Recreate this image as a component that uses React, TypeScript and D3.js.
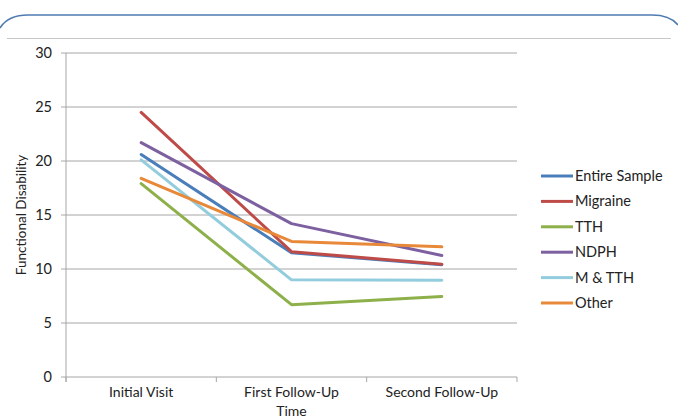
import React from "react";
import * as d3 from "d3";

const categories = ["Initial Visit", "First Follow-Up", "Second Follow-Up"];
const seriesNames = ["Entire Sample", "Migraine", "TTH", "NDPH", "M & TTH", "Other"];
const entireSample = [20.6, 11.5, 10.4];
const migraine = [24.5, 11.6, 10.45];
const tth = [17.9, 6.7, 7.45];
const ndph = [21.7, 14.2, 11.25];
const mTth = [20.1, 9.0, 8.95];
const other = [18.4, 12.55, 12.05];
const yTicks = [0, 5, 10, 15, 20, 25, 30];
const colors = ["#4A7EBB", "#BE4B48", "#8DB04A", "#7D60A0", "#93CDDD", "#E8893A"];

const W = 678;
const H = 420;
const FONT = "Lato, 'Open Sans', sans-serif";

export default function App() {
  const allSeries = [entireSample, migraine, tth, ndph, mTth, other];
  const plotLeft = 66;
  const plotRight = 517;
  const y = d3.scaleLinear().domain([0, 30]).range([377, 53]);
  const x = d3.scaleBand<string>().domain(categories).range([plotLeft, plotRight]).padding(0);
  const cx = (c: string) => (x(c) as number) + x.bandwidth() / 2;
  const line = d3
    .line<number>()
    .x((_, i) => cx(categories[i]))
    .y((d) => y(d));
  const catEdges = [...categories.map((c) => x(c) as number), plotRight];

  return (
    <svg
      width={W}
      height={H}
      style={{ position: "absolute", left: 0, top: 0, background: "#fff" }}
      fontFamily={FONT}
    >
      {/* header shape */}
      <path
        d="M0,28 Q8,15 28,15 L652,15 Q670,15 678,25"
        fill="none"
        stroke="#4F7BB0"
        strokeWidth={1.5}
      />
      <line x1={7} x2={671} y1={38.5} y2={38.5} stroke="#c8c8c8" strokeWidth={1} />

      {/* gridlines */}
      {yTicks.map((t) => (
        <g key={t}>
          {t > 0 && (
            <line x1={plotLeft} x2={plotRight} y1={y(t)} y2={y(t)} stroke="#a6a6a6" strokeWidth={1} />
          )}
          <line x1={61} x2={plotLeft} y1={y(t)} y2={y(t)} stroke="#a6a6a6" strokeWidth={1} />
          <text x={52} y={y(t)} dy="0.35em" textAnchor="end" fontSize={14.5} fill="#222">
            {t}
          </text>
        </g>
      ))}
      {/* axes */}
      <line x1={plotLeft} x2={plotLeft} y1={53} y2={382} stroke="#a6a6a6" strokeWidth={1} />
      <line x1={plotLeft} x2={plotRight} y1={377} y2={377} stroke="#a6a6a6" strokeWidth={1} />
      {catEdges.map((e, i) => (
        <line key={i} x1={e} x2={e} y1={377} y2={382} stroke="#a6a6a6" strokeWidth={1} />
      ))}
      {categories.map((c) => (
        <text key={c} x={cx(c)} y={397} textAnchor="middle" fontSize={14} fill="#222">
          {c}
        </text>
      ))}
      <text x={(plotLeft + plotRight) / 2} y={416} textAnchor="middle" fontSize={14} fill="#222">
        Time
      </text>
      <text
        transform={`translate(21,${(53 + 377) / 2}) rotate(-90)`}
        textAnchor="middle"
        dy="0.35em"
        fontSize={13.5}
        fill="#222"
      >
        Functional Disability
      </text>

      {/* lines */}
      {allSeries.map((s, i) => (
        <path
          key={seriesNames[i]}
          d={line(s) as string}
          fill="none"
          stroke={colors[i]}
          strokeWidth={3}
          strokeLinejoin="round"
          strokeLinecap="round"
        />
      ))}

      {/* legend */}
      {seriesNames.map((n, i) => {
        const ly = 176 + i * 25.4;
        return (
          <g key={n}>
            <line x1={541} x2={573} y1={ly} y2={ly} stroke={colors[i]} strokeWidth={3} />
            <text x={575} y={ly} dy="0.35em" fontSize={14.5} fill="#222">
              {n}
            </text>
          </g>
        );
      })}
    </svg>
  );
}
